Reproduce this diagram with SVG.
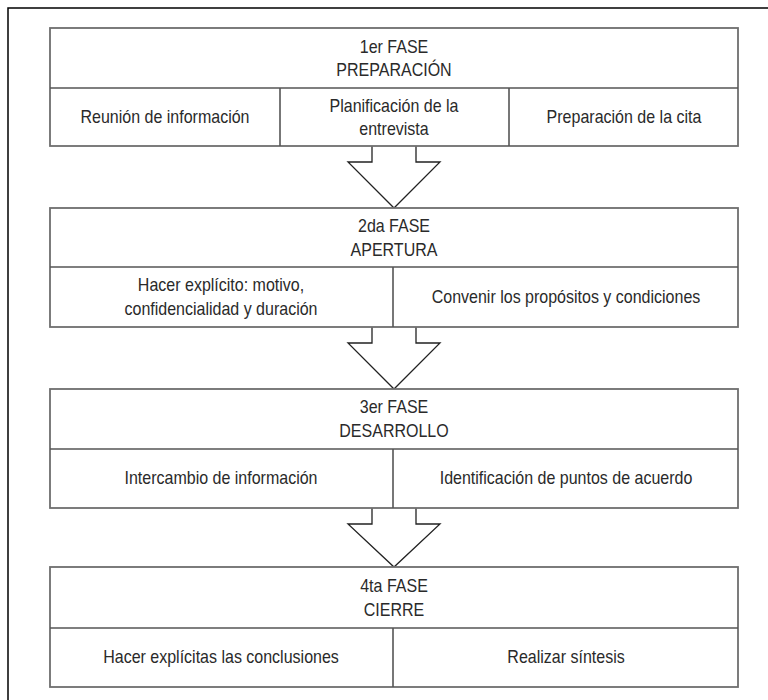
<svg xmlns="http://www.w3.org/2000/svg" width="768" height="700" viewBox="0 0 768 700">
<style>
.frame{fill:none;stroke:#000;stroke-width:1.5}
.box{fill:#fff;stroke:#6e6e6e;stroke-width:1.8}
.div{stroke:#555;stroke-width:1.6;fill:none}
.arr{fill:#fff;stroke:#222;stroke-width:1.3;stroke-linejoin:miter}
.t{font-family:"Liberation Sans",Arial,sans-serif;font-size:18px;fill:#2a2a2a;text-anchor:middle}
</style>
<rect width="768" height="700" fill="#fff"/>
<rect class="frame" x="8" y="8" width="780" height="720"/>

<g id="connectors">
<path class="arr" d="M372,146 V162 H348 L394,208 L440,162 H416 V146"/>
<path class="arr" d="M372,327 V343 H348 L394,389 L440,343 H416 V327"/>
<path class="arr" d="M372,508 V524 H348 L394,567 L440,524 H416 V508"/>
</g>

<g id="fase1">
<rect class="box" x="50" y="28" width="688" height="118"/>
<line class="div" x1="50" y1="88" x2="738" y2="88"/>
<line class="div" x1="280" y1="88" x2="280" y2="146"/>
<line class="div" x1="509" y1="88" x2="509" y2="146"/>
<text class="t" transform="translate(394,53) scale(0.89,1)">1er FASE</text>
<text class="t" transform="translate(394,76) scale(0.89,1)">PREPARACIÓN</text>
<text class="t" transform="translate(165,123) scale(0.89,1)">Reunión de información</text>
<text class="t" transform="translate(394,112) scale(0.89,1)">Planificación de la</text>
<text class="t" transform="translate(394,135) scale(0.89,1)">entrevista</text>
<text class="t" transform="translate(624,123) scale(0.89,1)">Preparación de la cita</text>
</g>

<g id="fase2">
<rect class="box" x="50" y="208" width="688" height="119"/>
<line class="div" x1="50" y1="267" x2="738" y2="267"/>
<line class="div" x1="393" y1="267" x2="393" y2="327"/>
<text class="t" transform="translate(394,232) scale(0.89,1)">2da FASE</text>
<text class="t" transform="translate(394,256) scale(0.89,1)">APERTURA</text>
<text class="t" transform="translate(221,291) scale(0.89,1)">Hacer explícito: motivo,</text>
<text class="t" transform="translate(221,315) scale(0.89,1)">confidencialidad y duración</text>
<text class="t" transform="translate(566,303) scale(0.89,1)">Convenir los propósitos y condiciones</text>
</g>

<g id="fase3">
<rect class="box" x="50" y="389" width="688" height="119"/>
<line class="div" x1="50" y1="449" x2="738" y2="449"/>
<line class="div" x1="393" y1="449" x2="393" y2="508"/>
<text class="t" transform="translate(394,413) scale(0.89,1)">3er FASE</text>
<text class="t" transform="translate(394,437) scale(0.89,1)">DESARROLLO</text>
<text class="t" transform="translate(221,484) scale(0.89,1)">Intercambio de información</text>
<text class="t" transform="translate(566,484) scale(0.89,1)">Identificación de puntos de acuerdo</text>
</g>

<g id="fase4">
<rect class="box" x="50" y="567" width="688" height="120"/>
<line class="div" x1="50" y1="628" x2="738" y2="628"/>
<line class="div" x1="393" y1="628" x2="393" y2="687"/>
<text class="t" transform="translate(394,592) scale(0.89,1)">4ta FASE</text>
<text class="t" transform="translate(394,616) scale(0.89,1)">CIERRE</text>
<text class="t" transform="translate(221,663) scale(0.89,1)">Hacer explícitas las conclusiones</text>
<text class="t" transform="translate(566,663) scale(0.89,1)">Realizar síntesis</text>
</g>
</svg>
